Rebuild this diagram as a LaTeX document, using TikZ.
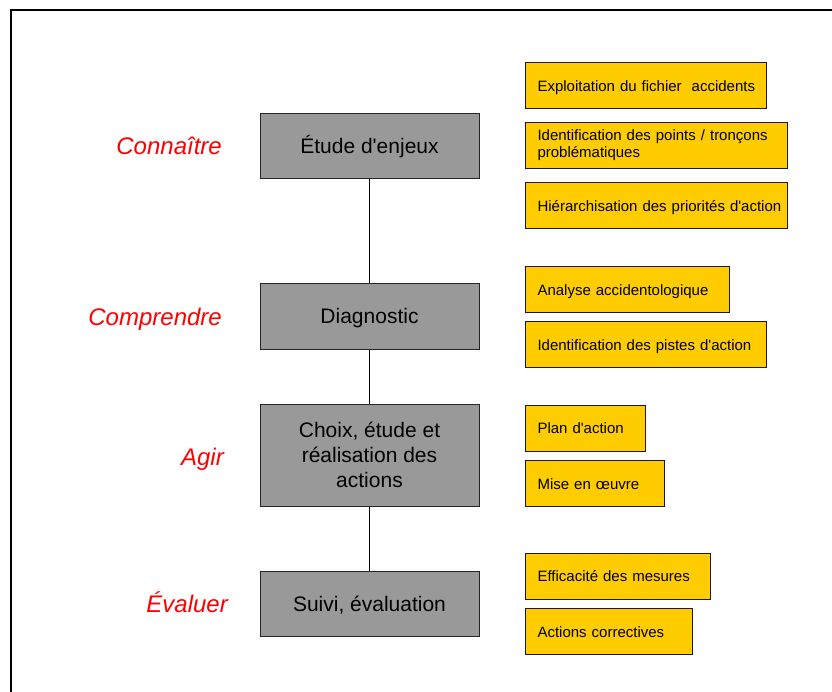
\documentclass[tikz,border=0pt]{standalone}
\usepackage{fontspec}
\setmainfont{Liberation Sans}
\newfontfamily\arialfam{Liberation Sans}
\definecolor{stagegray}{HTML}{999999}
\definecolor{taskgold}{HTML}{FFCC00}
\begin{document}
\begin{tikzpicture}[x=1pt,y=-1pt,
  frameline/.style={line width=2pt},
  stage/.style={draw=black!85, line width=1pt, fill=stagegray, minimum width=219pt,
    align=center, inner sep=0pt, font=\arialfam\fontsize{21}{25}\selectfont},
  oneline/.style={text height=19.5pt, text depth=4pt},
  task/.style={draw=black!90, line width=1pt, fill=taskgold, anchor=north west,
    align=left, inner xsep=12pt, inner ysep=0pt, minimum height=46pt,
    font=\arialfam\fontsize{15}{17}\selectfont},
  taskline/.style={text height=14pt, text depth=3pt},
  verb/.style={anchor=base east, text=red, inner sep=0pt,
    font=\arialfam\fontsize{24}{28}\selectfont\itshape},
  link/.style={line width=1pt}]
\useasboundingbox (0,0) rectangle (832,691);
\draw[frameline] (11.3,692) -- (11.3,10) -- (833,10);

% stages
\node[stage, oneline, minimum height=65pt] (s1) at (369.5,145.5) {Étude d'enjeux};
\node[stage, oneline, minimum height=66pt] (s2) at (369.5,316) {Diagnostic};
\node[stage, minimum height=102pt] (s3) at (369.5,455) {Choix, étude et\\réalisation des\\actions};
\node[stage, oneline, minimum height=65pt] (s4) at (369.5,603.5) {Suivi, évaluation};

\draw[link] (s1) -- (s2);
\draw[link] (s2) -- (s3);
\draw[link] (s3) -- (s4);

% verbs
\node[verb] (v1) at (222,154) {Connaître};
\node[verb] (v2) at (222,325) {Comprendre};
\node[verb] (v3) at (224,465) {Agir};
\node[verb] (v4) at (228,612) {Évaluer};

% tasks
\node[task, taskline, text width=217pt] (t1) at (525,62) {\mbox{Exploitation du fichier\ \ accidents}};
\node[task, text width=238pt] (t2) at (525,122) {\mbox{Identification des points / tronçons}\\\mbox{problématiques}};
\node[task, taskline, text width=238pt] (t3) at (525,182) {\mbox{Hiérarchisation des priorités d'action}};
\node[task, taskline, text width=180pt] (t4) at (525,266) {\mbox{Analyse accidentologique}};
\node[task, taskline, text width=217pt] (t5) at (525,321) {\mbox{Identification des pistes d'action}};
\node[task, taskline, text width=96pt] (t6) at (525,404.5) {\mbox{Plan d'action}};
\node[task, taskline, text width=115pt] (t7) at (525,460) {\mbox{Mise en œuvre}};
\node[task, taskline, text width=161pt] (t8) at (525,552.5) {\mbox{Efficacité des mesures}};
\node[task, taskline, text width=143pt] (t9) at (525,608) {\mbox{Actions correctives}};
\end{tikzpicture}
\end{document}
